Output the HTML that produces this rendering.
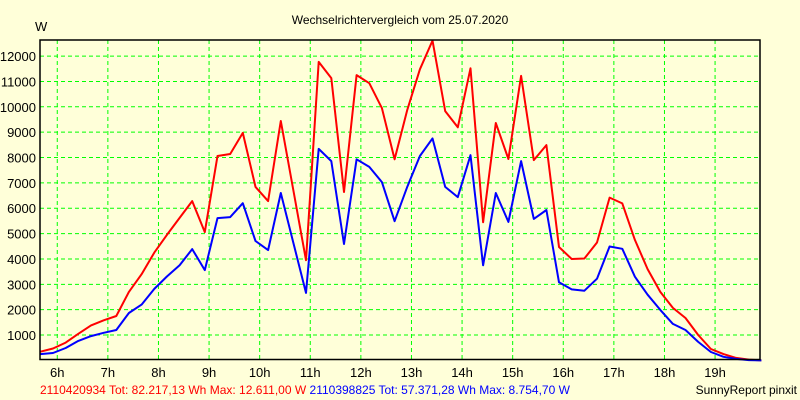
<!DOCTYPE html>
<html><head><meta charset="utf-8"><style>
body{margin:0;background:#ffffd9}
svg{display:block;font-family:"Liberation Sans",sans-serif}
</style></head><body>
<svg width="800" height="400" viewBox="0 0 800 400">
<rect x="0" y="0" width="800" height="400" fill="#ffffd9"/>
<text x="400" y="24" font-size="12" text-anchor="middle">Wechselrichtervergleich vom 25.07.2020</text>
<text x="35" y="31" font-size="13">W</text>
<g id="grid"></g>
<g id="series"></g>
<rect x="40" y="40" width="720" height="319.5" fill="none" stroke="#000" stroke-width="1.5"/>
<g id="labels"></g>
<text y="394" font-size="12"><tspan x="40" fill="#f00">2110420934 Tot: 82.217,13 Wh Max: 12.611,00 W</tspan><tspan fill="#00f"> 2110398825 Tot: 57.371,28 Wh Max: 8.754,70 W</tspan></text>
<text x="797" y="394" font-size="12" text-anchor="end">SunnyReport pinxit</text>
</svg>
<script>
const startMinute = 340;
const stepMinutes = 15;
const redValues = [343,470,700,1050,1380,1580,1750,2700,3400,4250,4950,5620,6280,5060,8060,8140,8970,6840,6280,9440,6700,3950,11770,11130,6640,11250,10930,9950,7930,9880,11480,12611,9830,9190,11520,5450,9360,7940,11220,7900,8490,4470,4000,4020,4650,6420,6190,4750,3600,2700,2070,1670,1000,450,250,100,30,0];
const blueValues = [250,290,490,770,960,1090,1200,1870,2200,2820,3310,3750,4390,3560,5610,5650,6200,4710,4350,6600,4630,2660,8340,7860,4590,7930,7630,7030,5490,6850,8060,8755,6840,6440,8090,3750,6600,5460,7860,5580,5930,3080,2800,2750,3220,4490,4400,3300,2590,1990,1440,1200,730,330,140,60,10,0];
const yTicks = [1000,2000,3000,4000,5000,6000,7000,8000,9000,10000,11000,12000];
const xTickHours = [6,7,8,9,10,11,12,13,14,15,16,17,18,19];

const NS = "http://www.w3.org/2000/svg";
function xScale(min){ return 40.4 + (min - startMinute) * 12.65 / 15; }
function yScale(v){ return 360.4 - v * 0.02536; }
function mk(tag, attrs, parent){ const e = document.createElementNS(NS, tag); for (const k in attrs) e.setAttribute(k, attrs[k]); parent.appendChild(e); return e; }

const grid = document.getElementById('grid');
const labels = document.getElementById('labels');
yTicks.forEach(v => {
  const y = yScale(v);
  const l = mk('line', {x1:40, x2:760, y1:y, y2:y, stroke:'#00ff00', 'stroke-width':1, 'stroke-dasharray':'4,3'}, grid);
  
  
  const t = mk('text', {x:36, y:y+5, 'font-size':13, 'text-anchor':'end'}, labels);
  t.textContent = v;
  
  
});
xTickHours.forEach(h => {
  const x = xScale(h * 60);
  const l = mk('line', {x1:x, x2:x, y1:40, y2:359, stroke:'#00ff00', 'stroke-width':1, 'stroke-dasharray':'4,3'}, grid);
  
  
  const t = mk('text', {x:x, y:377, 'font-size':13, 'text-anchor':'middle'}, labels);
  t.textContent = h + 'h';
  
  
});
const series = document.getElementById('series');
function drawLine(vals, color, name){
  const pts = vals.map((v,i) => xScale(startMinute + i*stepMinutes).toFixed(1) + ',' + yScale(v).toFixed(1)).join(' ');
  const p = mk('polyline', {points:pts, fill:'none', stroke:color, 'stroke-width':2, 'stroke-linejoin':'round'}, series);
  
  
}
drawLine(redValues, '#ff0000', 'series-2110420934');
drawLine(blueValues, '#0000ff', 'series-2110398825');
</script>
</body></html>
